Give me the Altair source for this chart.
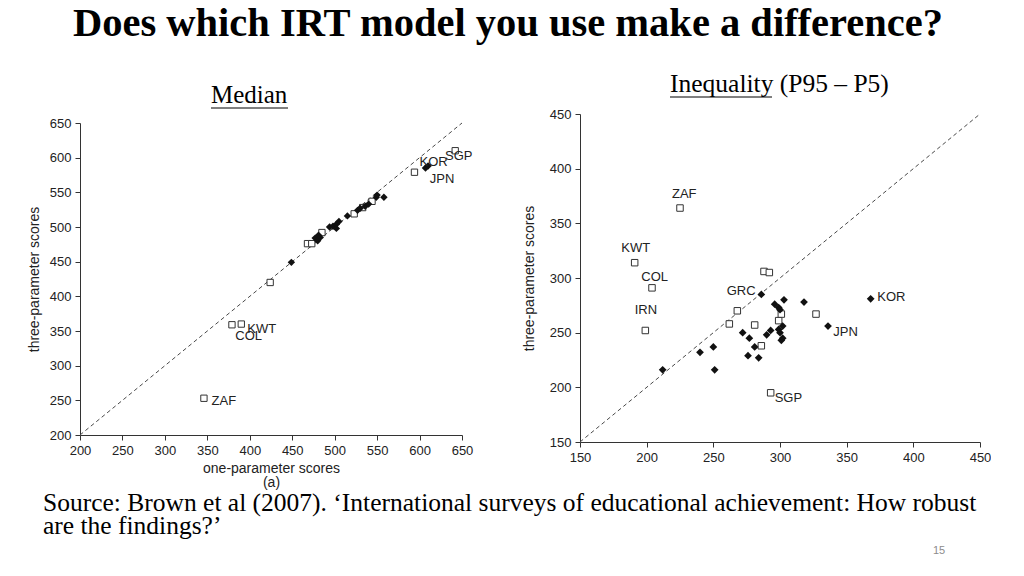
import altair as alt
import pandas as pd

SANS = "Liberation Sans"
SERIF = "Liberation Serif"

# ---------------- data: Median panel ----------------
med_dia_x = [449, 477, 481, 483, 480, 494, 498, 502, 502, 505, 515, 527, 530, 536, 540, 549, 558, 550, 607, 610]
med_dia_y = [449, 484, 488, 485, 480, 500, 501, 504, 498, 508, 516, 524, 527, 530, 533, 543, 543, 546, 585, 588]
med_sq_x = [346, 379, 390, 424, 468, 473, 485, 523, 533, 544, 594, 642]
med_sq_y = [253, 359, 360, 420, 476, 476, 492, 519, 528, 537, 579, 610]
med_lab = ["KOR", "SGP", "JPN", "KWT", "COL", "ZAF"]
med_lab_x = [600, 630, 612, 397, 383, 355]
med_lab_y = [594, 602, 569, 353, 343, 249]
med_ticks = [200, 250, 300, 350, 400, 450, 500, 550, 600, 650]
med_diag = [200, 650]

# ---------------- data: Inequality panel ----------------
ineq_dia_x = [212, 240, 250, 251, 272, 277, 276, 281, 284, 286, 290, 293, 296, 299, 300, 299, 300, 301, 302, 302, 303, 318, 336, 368]
ineq_dia_y = [216, 232, 237, 216, 250, 245, 229, 237, 227, 285, 248, 252, 276, 273, 271, 253, 250, 243, 256, 245, 280, 278, 256, 281]
ineq_sq_x = [191, 199, 204, 225, 262, 268, 281, 286, 288, 292, 293, 299, 301, 327]
ineq_sq_y = [314, 252, 291, 364, 258, 270, 257, 238, 306, 305, 195, 261, 267, 267]
ineq_lab = ["ZAF", "KWT", "COL", "IRN", "GRC", "KOR", "JPN", "SGP"]
ineq_lab_x = [219, 181, 196, 191, 260, 373, 340, 296]
ineq_lab_y = [377, 327, 301, 271, 288, 283, 251, 190]
ineq_ticks = [150, 200, 250, 300, 350, 400, 450]
ineq_diag = [150, 450]

# ---------------- texts ----------------
main_title = ["Does which IRT model you use make a difference?"]
left_heading = ["Median"]
right_heading = ["Inequality (P95 \u2013 P5)"]
source_text = ["Source: Brown et al (2007). \u2018International surveys of educational achievement: How robust\nare the findings?\u2019"]
page_no = ["15"]

# ---------------- Median panel ----------------
xL = alt.X("x:Q", scale=alt.Scale(domain=[200, 650], nice=False, zero=False),
           axis=alt.Axis(values=med_ticks, title=["one-parameter scores", "(a)"],
                         titlePadding=4, titleLineHeight=14))
yL = alt.Y("y:Q", scale=alt.Scale(domain=[200, 650], nice=False, zero=False, range=[321, 9]),
           axis=alt.Axis(values=med_ticks, title="three-parameter scores", titlePadding=8))

diagL = alt.Chart(pd.DataFrame({"x": med_diag, "y": med_diag})).mark_line(
    strokeDash=[4, 3], color="#4a4a4a", strokeWidth=1).encode(x=xL, y=yL)
sqL = alt.Chart(pd.DataFrame({"x": med_sq_x, "y": med_sq_y})).mark_point(
    shape="square", size=40, filled=True, fill="white", stroke="#333333",
    strokeWidth=1, opacity=1).encode(x=xL, y=yL)
diaL = alt.Chart(pd.DataFrame({"x": med_dia_x, "y": med_dia_y})).mark_point(
    shape="diamond", size=55, filled=True, color="#111111", opacity=1).encode(x=xL, y=yL)
labL = alt.Chart(pd.DataFrame({"x": med_lab_x, "y": med_lab_y, "t": med_lab})).mark_text(
    align="left", baseline="middle", font=SANS, fontSize=13, color="#222222").encode(
    x=xL, y=yL, text="t:N")

titleT = alt.Chart(pd.DataFrame({"t": main_title})).mark_text(
    font=SERIF, fontSize=40.5, fontWeight="bold", align="center", baseline="alphabetic",
    color="black").encode(x=alt.value(428), y=alt.value(-78), text="t:N")
medT = alt.Chart(pd.DataFrame({"t": left_heading})).mark_text(
    font=SERIF, fontSize=25, align="left", baseline="alphabetic", color="black").encode(
    x=alt.value(131), y=alt.value(-11), text="t:N")
medU = alt.Chart(pd.DataFrame({"t": left_heading})).mark_rule(
    color="black", strokeWidth=1).encode(x=alt.value(131), x2=alt.value(208), y=alt.value(-6))
srcT = alt.Chart(pd.DataFrame({"t": source_text})).mark_text(
    font=SERIF, fontSize=25.5, align="left", baseline="alphabetic", color="black",
    lineBreak="\n", lineHeight=23).encode(x=alt.value(-37), y=alt.value(397), text="t:N")
pageT = alt.Chart(pd.DataFrame({"t": page_no})).mark_text(
    font=SANS, fontSize=11, align="center", baseline="alphabetic", color="#8c8c8c").encode(
    x=alt.value(859), y=alt.value(440), text="t:N")
anchor = alt.Chart(pd.DataFrame({"t": [0]})).mark_rule(opacity=0).encode(
    x=alt.value(-72), x2=alt.value(-71), y=alt.value(-112))

left = alt.layer(diagL, sqL, diaL, labL, titleT, medT, medU, srcT, pageT, anchor).properties(
    width=382, height=321)

# ---------------- Inequality panel ----------------
xR = alt.X("x:Q", scale=alt.Scale(domain=[150, 450], nice=False, zero=False),
           axis=alt.Axis(values=ineq_ticks, title=None))
yR = alt.Y("y:Q", scale=alt.Scale(domain=[150, 450], nice=False, zero=False),
           axis=alt.Axis(values=ineq_ticks, title="three-parameter scores", titlePadding=13))

diagR = alt.Chart(pd.DataFrame({"x": ineq_diag, "y": ineq_diag})).mark_line(
    strokeDash=[4, 3], color="#4a4a4a", strokeWidth=1).encode(x=xR, y=yR)
sqR = alt.Chart(pd.DataFrame({"x": ineq_sq_x, "y": ineq_sq_y})).mark_point(
    shape="square", size=42, filled=True, fill="white", stroke="#333333",
    strokeWidth=1, opacity=1).encode(x=xR, y=yR)
diaR = alt.Chart(pd.DataFrame({"x": ineq_dia_x, "y": ineq_dia_y})).mark_point(
    shape="diamond", size=60, filled=True, color="#111111", opacity=1).encode(x=xR, y=yR)
labR = alt.Chart(pd.DataFrame({"x": ineq_lab_x, "y": ineq_lab_y, "t": ineq_lab})).mark_text(
    align="left", baseline="middle", font=SANS, fontSize=13, color="#222222").encode(
    x=xR, y=yR, text="t:N")
ineqT = alt.Chart(pd.DataFrame({"t": right_heading})).mark_text(
    font=SERIF, fontSize=25.5, align="left", baseline="alphabetic", color="black").encode(
    x=alt.value(90), y=alt.value(-22), text="t:N")
ineqU = alt.Chart(pd.DataFrame({"t": right_heading})).mark_rule(
    color="black", strokeWidth=1).encode(x=alt.value(90), x2=alt.value(192), y=alt.value(-17))

right = alt.layer(diagR, sqR, diaR, labR, ineqT, ineqU).properties(width=400, height=328)

chart = alt.hconcat(left, right, spacing=118, bounds="flush").properties(
    padding={"left": 0, "top": -6, "right": 0, "bottom": 0},
    background="white",
).configure_view(strokeWidth=0).configure_axis(
    labelFont=SANS, labelFontSize=13, labelColor="#222222",
    titleFont=SANS, titleFontSize=14, titleFontWeight="normal", titleColor="#222222",
    domainColor="#333333", tickColor="#333333", tickSize=5, labelPadding=4,
    grid=False, labelFlush=False,
)

chart.save("out.html", embed_options={"renderer": "svg", "actions": False})
